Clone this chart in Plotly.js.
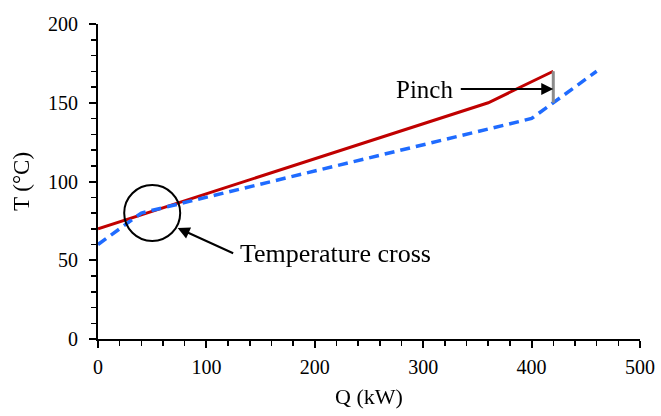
<!DOCTYPE html>
<html>
<head>
<meta charset="utf-8">
<script src="https://cdn.plot.ly/plotly-3.0.1.min.js"></script>
<style>html,body{margin:0;padding:0;background:#fff;}#chart{width:661px;height:416px;}
#chart svg.main-svg:nth-of-type(2){will-change:transform;}</style>
</head>
<body>
<div id="chart"></div>
<script>
// Hot composite curve
var hotQ = [0, 360, 420];
var hotT = [70, 150, 170];
// Cold composite curve
var coldQ = [0, 40, 400, 460];
var coldT = [60, 80, 140, 170];
// Pinch marker
var pinchQ = [420, 420];
var pinchT = [150, 170];
var xTicks = [0, 100, 200, 300, 400, 500];
var yTicks = [0, 50, 100, 150, 200];

var font = 'Liberation Serif, Times New Roman, serif';
var L = 98, R = 21, T = 24, B = 77, W = 661, H = 416;
var pw = W - L - R, ph = H - T - B;
function px(x) { return (x - L) / pw; }
function py(y) { return (H - B - y) / ph; }

var traces = [
  {x: hotQ, y: hotT, mode: 'lines', line: {color: '#C00000', width: 3}, hoverinfo: 'skip'},
  {x: coldQ, y: coldT, mode: 'lines', line: {color: '#1F6BFF', width: 3.5, dash: '10px,6px'}, hoverinfo: 'skip'},
  {x: pinchQ, y: pinchT, mode: 'lines', line: {color: '#8C8C8C', width: 3}, hoverinfo: 'skip'}
];

var layout = {
  width: W, height: H,
  margin: {l: L, r: R, t: T, b: B},
  showlegend: false,
  paper_bgcolor: '#fff', plot_bgcolor: '#fff',
  font: {family: font, color: '#000000', size: 20},
  xaxis: {
    range: [0, 500], tickvals: xTicks, ticktext: xTicks.map(String),
    showgrid: false, zeroline: false, showline: true, linecolor: '#000', linewidth: 2,
    ticks: 'outside', ticklen: 7, tickwidth: 2, tickcolor: '#000',
    minor: {dtick: 20, ticks: 'outside', ticklen: 5, tickwidth: 1.5, tickcolor: '#000', showgrid: false},
    tickfont: {family: font, size: 20, color: '#000000'},
    ticklabelstandoff: 2,
    title: {text: 'Q (kW)', font: {family: font, size: 22, color: '#000000'}, standoff: 12}
  },
  yaxis: {
    range: [0, 200], tickvals: yTicks, ticktext: yTicks.map(String),
    showgrid: false, zeroline: false, showline: true, linecolor: '#000', linewidth: 2,
    ticks: 'outside', ticklen: 7, tickwidth: 2, tickcolor: '#000',
    minor: {dtick: 10, ticks: 'outside', ticklen: 5, tickwidth: 1.5, tickcolor: '#000', showgrid: false},
    tickfont: {family: font, size: 20, color: '#000000'},
    ticklabelstandoff: 7,
    title: {text: '\u00a0\u00a0\u00a0T (°C)', font: {family: font, size: 23, color: '#000000'}, standoff: 12}
  },
  shapes: [
    {type: 'circle', xref: 'x', yref: 'y', xsizemode: 'pixel', ysizemode: 'pixel',
     xanchor: 50, yanchor: 80, x0: -28, x1: 28, y0: -28, y1: 28,
     line: {color: '#000', width: 2}}
  ],
  annotations: [
    {x: 420, y: 158.7, xref: 'x', yref: 'y', text: '', showarrow: true,
     ax: -94, ay: 0, arrowhead: 2, arrowsize: 1.2, arrowwidth: 2, arrowcolor: '#000'},
    {x: px(424), y: py(89), xref: 'paper', yref: 'paper', text: 'Pinch', showarrow: false,
     xanchor: 'center', yanchor: 'middle',
     font: {family: font, size: 25, color: '#000000'}},
    {x: 73.5, y: 70.5, xref: 'x', yref: 'y', text: '', showarrow: true,
     ax: 57, ay: 26, arrowhead: 2, arrowsize: 1.2, arrowwidth: 2, arrowcolor: '#000'},
    {x: px(238), y: py(253), xref: 'paper', yref: 'paper', text: 'Temperature cross', showarrow: false,
     xanchor: 'left', yanchor: 'middle',
     font: {family: font, size: 26, color: '#000000'}}
  ]
};

Plotly.newPlot('chart', traces, layout, {staticPlot: true, displayModeBar: false});
</script>
</body>
</html>
